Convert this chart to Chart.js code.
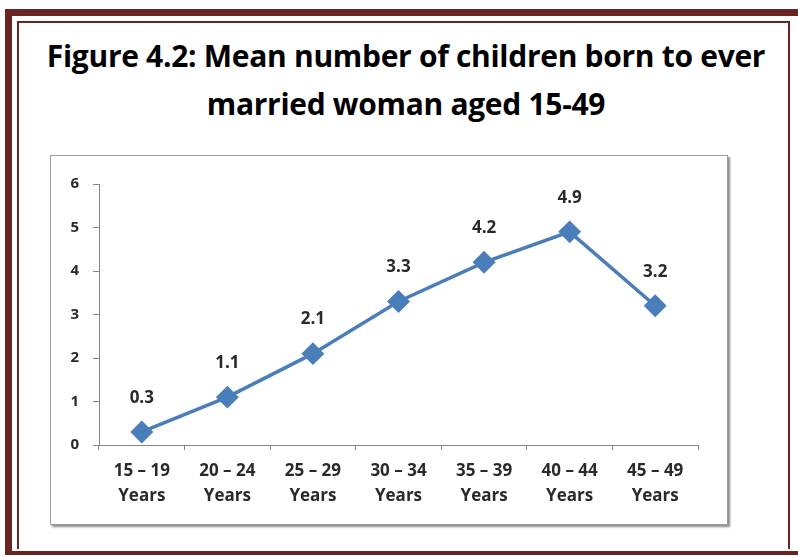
<!DOCTYPE html>
<html><head><meta charset="utf-8">
<script src="https://cdn.jsdelivr.net/npm/chart.js@4"></script>
<style>
html,body{margin:0;padding:0;background:#fff;width:798px;height:557px;overflow:hidden;position:relative;font-family:"Open Sans",sans-serif}
#f1{position:absolute;left:5px;top:9px;width:800px;height:546px;border:7px solid #6b2424;border-bottom-width:4px;box-sizing:border-box}
#f2{position:absolute;left:17px;top:21px;width:773px;height:528px;border:2px solid #6b2424;border-bottom:none;box-sizing:border-box}
#title{position:absolute;left:0;top:32px;width:812px;text-align:center;font-weight:700;font-size:30px;line-height:48px;color:#000;font-family:"Open Sans",sans-serif;letter-spacing:-0.3px}
#box{position:absolute;left:50px;top:155px;width:678px;height:370px;border:1px solid #9a9a9a;box-sizing:border-box;box-shadow:2px 2px 2px #8a8a8a;background:#fff}
#c{position:absolute;left:0;top:0}
</style></head>
<body>
<div id="f1"></div><div id="f2"></div>
<div id="title">Figure 4.2: Mean number of children born to ever<br>married woman aged 15-49</div>
<div id="box"><canvas id="c" width="676" height="368"></canvas></div>
<script>
const categories = [["15 – 19","Years"],["20 – 24","Years"],["25 – 29","Years"],["30 – 34","Years"],["35 – 39","Years"],["40 – 44","Years"],["45 – 49","Years"]];
const meanChildren = [0.3, 1.1, 2.1, 3.3, 4.2, 4.9, 3.2];
const yTicks = [0,1,2,3,4,5,6];

const labelPlugin = {
  id:'vlabels',
  afterDatasetsDraw(chart){
    const ctx = chart.ctx;
    const meta = chart.getDatasetMeta(0);
    ctx.save();
    ctx.font = 'bold 17px "Open Sans", sans-serif';
    ctx.fillStyle = '#2a2a2a';
    ctx.textAlign = 'center';
    ctx.textBaseline = 'middle';
    meta.data.forEach((p,i)=>{
      ctx.fillText(meanChildren[i].toFixed(1), p.x, p.y - 34);
    });
    ctx.restore();
  }
};

Chart.defaults.font.family = '"Open Sans", sans-serif';
new Chart(document.getElementById('c'), {
  type:'line',
  data:{labels:categories, datasets:[{
    data:meanChildren,
    borderColor:'#4a7ebb', backgroundColor:'#4a7ebb',
    borderWidth:3.5, pointStyle:'rectRot', pointRadius:9, pointHoverRadius:9,
    pointBorderColor:'#4a7ebb', pointBackgroundColor:'#4a7ebb', tension:0
  }]},
  options:{
    responsive:false, animation:false, events:[],
    layout:{padding:{top:28,right:29,left:0,bottom:0}},
    plugins:{legend:{display:false}, tooltip:{enabled:false}, title:{display:false}},
    scales:{
      x:{
        offset:true,
        grid:{display:true, drawOnChartArea:false, offset:true, tickLength:5, color:'#868686', tickColor:'#868686'},
        border:{display:true,color:'#868686',width:1},
        ticks:{color:'#2a2a2a', font:{size:17,weight:'bold',lineHeight:1.5}, padding:8, maxRotation:0, autoSkip:false},
        afterFit(s){ s.height = 79; }
      },
      y:{
        min:0, max:6,
        afterBuildTicks(s){ s.ticks = yTicks.map(v=>({value:v})); },
        grid:{display:true, drawOnChartArea:false, tickLength:6, color:'#868686', tickColor:'#868686'},
        border:{display:true,color:'#868686',width:1},
        ticks:{color:'#2a2a2a', font:{size:15,weight:'bold'}, padding:14},
        afterFit(s){ s.width = 48; }
      }
    }
  },
  plugins:[labelPlugin]
});
</script>
</body></html>
